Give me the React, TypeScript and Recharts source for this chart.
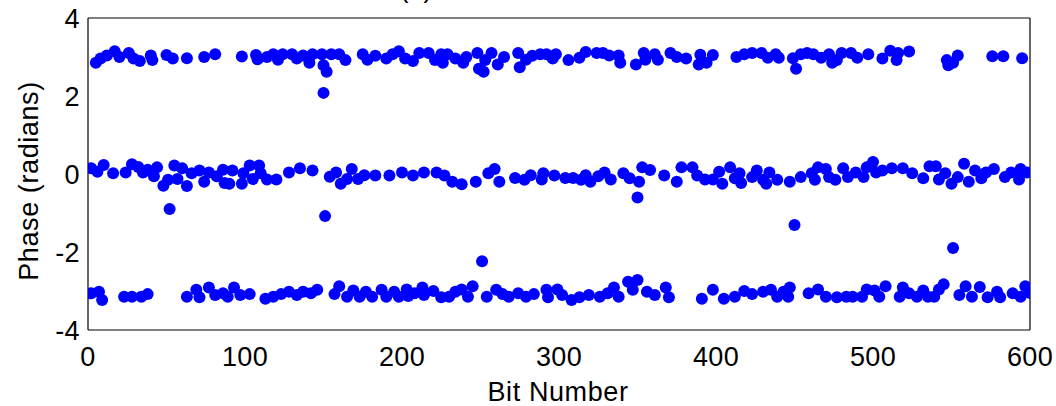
import React from 'react';
import { ScatterChart, Scatter, XAxis, YAxis } from 'recharts';

const xTicks = [0, 100, 200, 300, 400, 500, 600];
const yTicks = [-4, -2, 0, 2, 4];

// [bit number, phase (radians)]
const upperBand: [number, number][] = [
  [5, 2.85], [8, 2.96], [12, 3.04], [17, 3.15], [20, 3.0], [26, 3.1], [29, 2.96], [33, 2.9], [40, 3.04], [41, 2.92],
  [50, 3.05], [54, 2.96], [63, 2.97], [74, 3.0], [81, 3.07], [98, 3.01], [107, 3.05], [108, 2.94], [114, 3.0], [118, 3.07],
  [121, 2.93], [124, 3.07], [130, 3.07], [133, 2.96], [137, 3.04], [141, 2.85], [143, 3.07], [149, 3.07], [150, 2.79], [152, 2.62],
  [150, 2.08], [155, 3.07], [160, 3.07], [164, 2.92], [175, 3.07], [178, 2.93], [183, 3.03], [190, 2.96], [194, 3.07], [198, 3.15],
  [202, 2.96], [207, 2.9], [211, 3.1], [217, 3.1], [221, 2.92], [225, 3.07], [226, 2.85], [229, 3.07], [234, 2.96], [239, 2.85],
  [241, 3.0], [248, 3.1], [249, 2.7], [252, 2.62], [253, 2.92], [257, 3.1], [261, 2.81], [265, 3.0], [274, 3.1], [275, 2.74],
  [279, 2.93], [283, 3.03], [288, 3.07], [292, 3.07], [296, 2.96], [298, 3.07], [306, 2.92], [313, 2.98], [317, 3.13], [324, 3.1],
  [328, 3.1], [332, 3.04], [338, 3.04], [339, 2.85], [349, 2.81], [354, 3.1], [355, 2.93], [361, 3.07], [363, 2.93], [371, 3.1],
  [375, 3.0], [381, 2.96], [389, 2.81], [390, 3.06], [394, 2.85], [398, 3.05], [413, 3.0], [418, 3.07], [423, 3.1], [429, 3.1],
  [433, 2.98], [438, 3.07], [440, 2.98], [449, 2.97], [451, 2.7], [454, 3.07], [458, 3.1], [462, 3.07], [467, 2.98], [472, 3.07],
  [474, 2.85], [477, 2.92], [480, 3.1], [486, 3.1], [490, 2.98], [497, 3.07], [506, 2.96], [511, 3.16], [515, 2.92], [516, 3.1],
  [523, 3.14], [547, 2.92], [548, 2.79], [551, 2.85], [554, 3.04], [576, 3.02], [583, 3.02], [595, 2.97],
];

const middleBand: [number, number][] = [
  [2, 0.15], [6, 0.06], [10, 0.23], [16, 0.02], [24, 0.04], [28, 0.25], [32, 0.18], [35, 0.04], [38, 0.11], [42, -0.06],
  [44, 0.17], [48, -0.3], [51, -0.15], [52, -0.9], [55, 0.22], [57, -0.13], [60, 0.15], [63, -0.31], [66, 0.02], [71, 0.09],
  [74, -0.2], [77, 0.04], [82, -0.06], [86, 0.11], [87, -0.23], [90, -0.25], [92, 0.09], [98, -0.25], [99, 0.02], [103, 0.22],
  [105, -0.13], [109, 0.22], [110, 0.02], [114, -0.14], [120, -0.14], [128, 0.04], [135, 0.15], [143, 0.09], [151, -1.08], [154, -0.07],
  [158, 0.04], [161, -0.25], [165, -0.13], [168, 0.13], [172, -0.13], [176, -0.03], [183, -0.04], [192, -0.04], [200, 0.04], [207, -0.04],
  [214, 0.04], [222, 0.04], [227, -0.04], [232, -0.2], [238, -0.26], [247, -0.2], [251, -2.24], [255, 0.02], [259, 0.13], [262, -0.2],
  [272, -0.1], [278, -0.15], [282, -0.03], [289, -0.14], [290, 0.02], [297, -0.04], [304, -0.1], [309, -0.1], [314, -0.15], [317, -0.03],
  [320, -0.2], [325, -0.06], [329, 0.04], [333, -0.14], [341, 0.02], [345, -0.11], [350, -0.6], [351, -0.2], [353, 0.17], [358, 0.1],
  [367, -0.04], [375, -0.2], [378, 0.17], [385, 0.17], [388, -0.04], [393, -0.14], [398, -0.14], [402, 0.06], [404, -0.25], [409, 0.17],
  [412, -0.11], [415, 0.02], [416, -0.23], [423, -0.08], [426, 0.09], [430, -0.15], [432, -0.25], [434, 0.04], [439, -0.15], [447, -0.2],
  [450, -1.31], [454, -0.08], [461, 0.02], [463, -0.15], [465, 0.17], [470, 0.13], [472, -0.08], [476, -0.15], [481, 0.15], [484, -0.08],
  [489, 0.04], [494, -0.08], [496, 0.17], [500, 0.31], [502, 0.04], [506, 0.09], [512, 0.15], [519, 0.15], [525, 0.02], [532, -0.11],
  [536, 0.2], [540, 0.2], [542, -0.14], [546, 0.02], [550, -0.25], [551, -1.9], [554, -0.08], [558, 0.26], [561, -0.2], [565, 0.09],
  [569, -0.11], [572, 0.04], [577, 0.13], [584, -0.08], [588, 0.04], [593, -0.14], [594, 0.13], [598, 0.04],
];

const lowerBand: [number, number][] = [
  [2, -3.06], [7, -3.02], [9, -3.23], [23, -3.15], [28, -3.15], [34, -3.15], [38, -3.08], [63, -3.15], [69, -2.97], [71, -3.16],
  [77, -2.91], [81, -3.1], [86, -3.06], [89, -3.15], [93, -2.91], [97, -3.1], [103, -3.08], [113, -3.2], [118, -3.15], [123, -3.08],
  [128, -3.02], [133, -3.1], [137, -3.02], [142, -3.06], [146, -2.97], [157, -3.08], [160, -2.88], [165, -3.15], [169, -2.99], [173, -3.15],
  [177, -3.02], [181, -3.15], [187, -2.97], [190, -3.15], [195, -3.02], [198, -3.15], [203, -2.96], [204, -3.13], [208, -3.06], [213, -2.91],
  [214, -3.1], [220, -3.0], [225, -3.16], [230, -3.15], [234, -3.02], [238, -2.96], [242, -3.15], [245, -2.88], [254, -3.15], [260, -2.97],
  [264, -3.08], [268, -3.15], [274, -3.06], [279, -3.15], [284, -3.08], [292, -2.97], [293, -3.16], [299, -2.96], [302, -3.1], [308, -3.23],
  [313, -3.16], [319, -3.1], [326, -3.15], [331, -3.06], [335, -2.91], [338, -3.15], [344, -2.76], [347, -2.97], [350, -2.72], [356, -3.02],
  [361, -3.1], [368, -2.91], [370, -3.16], [391, -3.2], [398, -2.97], [405, -3.2], [412, -3.15], [418, -3.0], [423, -3.08], [430, -3.02],
  [435, -2.97], [439, -3.15], [443, -3.02], [446, -3.15], [447, -2.91], [459, -3.06], [465, -2.96], [470, -3.15], [477, -3.16], [483, -3.15],
  [487, -3.15], [493, -3.15], [496, -2.96], [501, -2.99], [504, -3.15], [508, -2.88], [517, -3.15], [519, -2.91], [523, -3.06], [528, -3.15],
  [532, -2.99], [535, -3.15], [539, -3.15], [542, -2.96], [545, -2.83], [555, -3.1], [559, -2.88], [563, -3.15], [568, -2.9], [573, -3.16],
  [579, -3.02], [581, -3.16], [589, -3.06], [594, -3.15], [597, -2.88], [600, -3.05],
];

const data = [...upperBand, ...middleBand, ...lowerBand].map(([x, y]) => ({ x, y }));

const FONT = '"Liberation Sans", Arial, Helvetica, sans-serif';
const tickStyle = { fill: '#000', fontSize: 27, fontFamily: FONT, letterSpacing: 0.4 };

const Dot = (props: any) => <circle cx={props.cx} cy={props.cy} r={6} fill="#0000ff" />;

export default function App() {
  return (
    <div style={{ position: 'absolute', left: 0, top: 0, width: 1056, height: 406, background: '#fff' }}>
      <ScatterChart width={1056} height={406} margin={{ top: 18, right: 26, bottom: 0, left: 0 }}>
        <XAxis
          xAxisId="b" dataKey="x" type="number" domain={[0, 600]} ticks={xTicks} interval={0}
          orientation="bottom" height={76} tickLine={false} tickSize={0} tickMargin={17}
          axisLine={{ stroke: '#000', strokeWidth: 1.2 }} tick={tickStyle} allowDataOverflow
        />
        <XAxis
          xAxisId="bm" type="number" domain={[0, 600]} ticks={xTicks} interval={0}
          orientation="bottom" mirror tick={false} axisLine={false} tickSize={8}
          tickLine={{ stroke: '#000', strokeWidth: 1.2 }} allowDataOverflow
        />
        <XAxis
          xAxisId="t" type="number" domain={[0, 600]} ticks={xTicks} interval={0}
          orientation="top" mirror tick={false} tickSize={8}
          axisLine={{ stroke: '#000', strokeWidth: 1.2 }} tickLine={{ stroke: '#000', strokeWidth: 1.2 }} allowDataOverflow
        />
        <YAxis
          yAxisId="l" dataKey="y" type="number" domain={[-4, 4]} ticks={yTicks} interval={0}
          orientation="left" width={88} tickLine={false} tickSize={0} tickMargin={8}
          axisLine={{ stroke: '#000', strokeWidth: 1.2 }} tick={tickStyle} allowDataOverflow
        />
        <YAxis
          yAxisId="lm" type="number" domain={[-4, 4]} ticks={yTicks} interval={0}
          orientation="left" mirror tick={false} axisLine={false} tickSize={8}
          tickLine={{ stroke: '#000', strokeWidth: 1.2 }} allowDataOverflow
        />
        <YAxis
          yAxisId="r" type="number" domain={[-4, 4]} ticks={yTicks} interval={0}
          orientation="right" mirror tick={false} tickSize={8}
          axisLine={{ stroke: '#000', strokeWidth: 1.2 }} tickLine={{ stroke: '#000', strokeWidth: 1.2 }} allowDataOverflow
        />
        <Scatter data={data} dataKey="y" xAxisId="b" yAxisId="l" shape={Dot} isAnimationActive={false} />
      </ScatterChart>
      <svg
        width={1056} height={406}
        style={{ position: 'absolute', left: 0, top: 0, pointerEvents: 'none', overflow: 'hidden' }}
      >
        <text x={416} y={-3} textAnchor="middle" fontFamily={FONT} fontSize={27} fill="#000">(a)</text>
        <text x={558} y={401} textAnchor="middle" fontFamily={FONT} fontSize={27} letterSpacing={0.6} fill="#000">Bit Number</text>
        <text x={38} y={181} transform="rotate(-90 38 181)" textAnchor="middle" fontFamily={FONT} fontSize={27} letterSpacing={0.6} fill="#000">
          Phase (radians)
        </text>
      </svg>
    </div>
  );
}
